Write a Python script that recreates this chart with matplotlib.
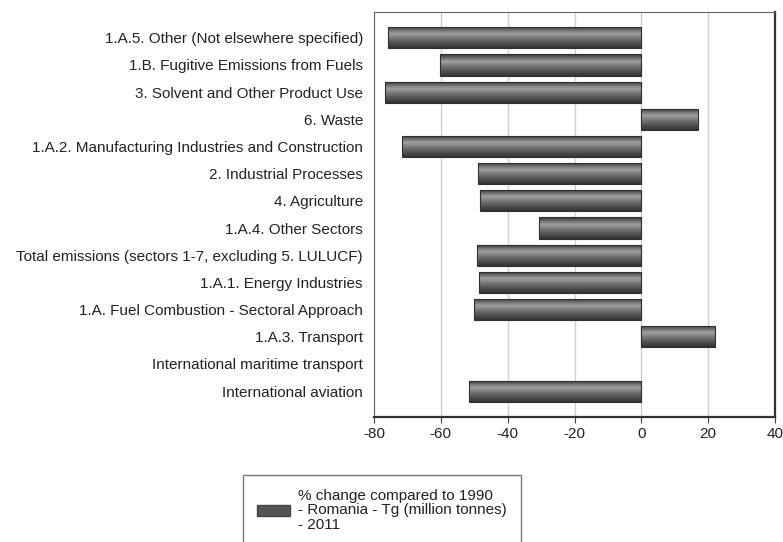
import numpy as np
import matplotlib.pyplot as plt
from matplotlib.patches import Patch
from matplotlib.colors import LinearSegmentedColormap

plt.rcParams['font.family'] = ['Liberation Sans', 'DejaVu Sans']

categories = [
    '1.A.5. Other (Not elsewhere specified)',
    '1.B. Fugitive Emissions from Fuels',
    '3. Solvent and Other Product Use',
    '6. Waste',
    '1.A.2. Manufacturing Industries and Construction',
    '2. Industrial Processes',
    '4. Agriculture',
    '1.A.4. Other Sectors',
    'Total emissions (sectors 1-7, excluding 5. LULUCF)',
    '1.A.1. Energy Industries',
    '1.A. Fuel Combustion - Sectoral Approach',
    '1.A.3. Transport',
    'International maritime transport',
    'International aviation',
]
values = [-75.7, -60.4, -76.6, 16.9, -71.6, -49.0, -48.4, -30.5,
          -49.3, -48.6, -50.2, 21.9, np.nan, -51.6]
ticks = [-80, -60, -40, -20, 0, 20, 40]
legend_label = '% change compared to 1990\n- Romania - Tg (million tonnes)\n- 2011'

fig = plt.figure(figsize=(7.83, 5.42), dpi=100)
ax = fig.add_axes([0.4777, 0.2306, 0.5121, 0.7474])

y = np.arange(len(categories))
vals = np.array(values, dtype=float)
ok = ~np.isnan(vals)
bars = ax.barh(y[ok], vals[ok], height=0.78, color='#5a5a5a', edgecolor='#303030',
               linewidth=0.8, zorder=3)

# shaded fill, dark at the edges, light in the middle
cmap = LinearSegmentedColormap.from_list('shade', ['#353535', '#a0a0a0', '#626262', '#333333'])
grad = np.linspace(0, 1, 64).reshape(-1, 1)
for b in bars:
    x0, y0 = b.get_x(), b.get_y()
    im = ax.imshow(grad, extent=[x0, x0 + b.get_width(), y0 + b.get_height(), y0],
                   aspect='auto', cmap=cmap, zorder=3.5, origin='upper')
    im.set_clip_path(b)
    b.set_facecolor('none')
    b.set_zorder(4)

ax.set_xlim(-80, 40)
ax.set_ylim(len(categories) - 0.05, -0.95)
ax.set_xticks(ticks)
ax.set_xticklabels([str(t) for t in ticks], fontsize=11, color='#222222')
ax.set_yticks(y)
ax.set_yticklabels(categories, fontsize=11, color='#222222')
ax.tick_params(axis='y', length=0, pad=8)
ax.tick_params(axis='x', length=4, color='#444444', pad=3)
ax.grid(axis='x', color='#d0d0d0', linewidth=1, zorder=0)
ax.set_axisbelow(True)
for s in ['left', 'top']:
    ax.spines[s].set_color('#666666')
    ax.spines[s].set_linewidth(0.8)
for s in ['right', 'bottom']:
    ax.spines[s].set_color('#333333')
    ax.spines[s].set_linewidth(1.6)

leg = fig.legend(handles=[Patch(facecolor='#555555', edgecolor='#444444')],
                 labels=[legend_label], loc='upper left',
                 bbox_to_anchor=(243 / 783, 1 - 475 / 542), fontsize=11,
                 frameon=True, fancybox=False, shadow=False,
                 handlelength=2.2, handleheight=0.8, borderpad=0.9,
                 labelspacing=0.2, handletextpad=0.5, borderaxespad=0)
leg.get_frame().set_edgecolor('#555555')
leg.get_frame().set_linewidth(1.0)
for t in leg.get_texts():
    t.set_linespacing(1.05)
    t.set_color('#222222')

fig.savefig('out.png', dpi=100)
